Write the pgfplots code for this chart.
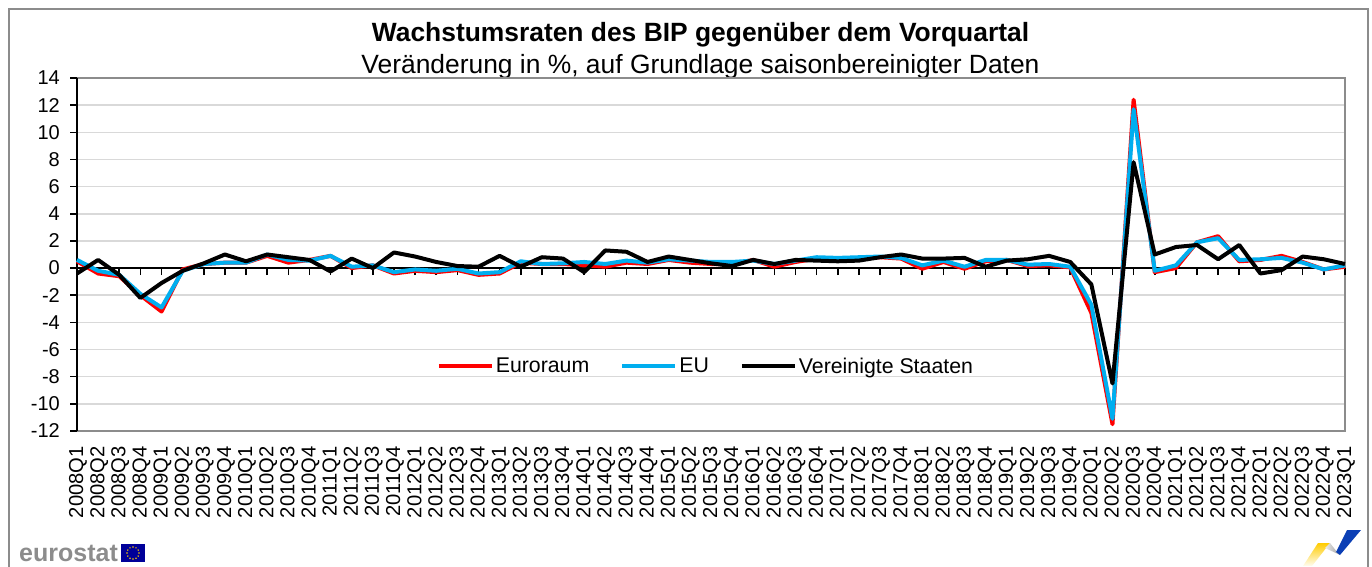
\documentclass[border=0pt]{standalone}
\usepackage{fontspec}
\setmainfont{Liberation Sans}
\usepackage{pgfplots}
\pgfplotsset{compat=1.18}
\usepackage{pgfplotstable}
\definecolor{eublue}{HTML}{00AEEF}
\definecolor{gridc}{HTML}{D9D9D9}
\definecolor{boxc}{HTML}{8C8C8C}
\definecolor{gold}{HTML}{FFCC00}
\definecolor{logoblue}{HTML}{0B3FB5}
\pgfplotstableread{
x ea eu us
0 0.5 0.6 -0.4
1 -0.4 -0.2 0.6
2 -0.6 -0.5 -0.5
3 -2.0 -1.9 -2.2
4 -3.2 -2.9 -1.1
5 -0.1 -0.2 -0.2
6 0.3 0.3 0.35
7 0.4 0.4 1.0
8 0.4 0.4 0.5
9 0.9 1.0 1.0
10 0.4 0.6 0.8
11 0.6 0.55 0.6
12 0.9 0.9 -0.25
13 0.0 0.1 0.7
14 0.2 0.2 0.0
15 -0.4 -0.3 1.15
16 -0.2 -0.1 0.85
17 -0.3 -0.2 0.45
18 -0.15 -0.05 0.15
19 -0.5 -0.4 0.1
20 -0.4 -0.3 0.9
21 0.4 0.5 0.1
22 0.3 0.3 0.8
23 0.3 0.35 0.7
24 0.2 0.45 -0.3
25 0.1 0.3 1.3
26 0.4 0.55 1.2
27 0.3 0.4 0.45
28 0.6 0.65 0.85
29 0.4 0.55 0.6
30 0.3 0.45 0.35
31 0.3 0.45 0.15
32 0.6 0.55 0.6
33 0.1 0.3 0.3
34 0.45 0.55 0.6
35 0.7 0.8 0.55
36 0.65 0.75 0.5
37 0.7 0.8 0.55
38 0.8 0.85 0.8
39 0.7 0.75 1.0
40 -0.05 0.2 0.7
41 0.45 0.55 0.7
42 -0.05 0.1 0.75
43 0.5 0.6 0.1
44 0.6 0.6 0.55
45 0.15 0.25 0.65
46 0.2 0.3 0.9
47 0.05 0.1 0.45
48 -3.3 -2.7 -1.2
49 -11.5 -11.1 -8.5
50 12.4 11.7 7.8
51 -0.3 -0.2 1.0
52 0.0 0.2 1.55
53 1.9 1.9 1.7
54 2.35 2.2 0.65
55 0.5 0.6 1.7
56 0.6 0.65 -0.4
57 0.9 0.75 -0.15
58 0.45 0.4 0.85
59 -0.1 -0.1 0.65
60 0.1 0.2 0.3
}\gdp
\begin{document}
\begin{tikzpicture}[x=1pt,y=1pt]
\useasboundingbox (0,0) rectangle (1372,566);
\draw[boxc,line width=1.6pt] (9,-3) -- (9,557) -- (1368,557) -- (1368,-3);
\node[font=\bfseries\fontsize{26.4}{28}\selectfont,anchor=base] at (700.5,524) {Wachstumsraten des BIP gegenüber dem Vorquartal};
\node[font=\fontsize{26.4}{28}\selectfont,anchor=base] at (700.5,492) {Veränderung in \%, auf Grundlage saisonbereinigter Daten};
\begin{axis}[
  at={(77pt,135pt)},anchor=south west,scale only axis,width=1268pt,height=353pt,
  xmin=0,xmax=60,ymin=-12,ymax=14,
  axis line style={boxc,line width=1.6pt},
  xtick={0,1,...,60},
  xticklabels={2008Q1,2008Q2,2008Q3,2008Q4,2009Q1,2009Q2,2009Q3,2009Q4,2010Q1,2010Q2,2010Q3,2010Q4,2011Q1,2011Q2,2011Q3,2011Q4,2012Q1,2012Q2,2012Q3,2012Q4,2013Q1,2013Q2,2013Q3,2013Q4,2014Q1,2014Q2,2014Q3,2014Q4,2015Q1,2015Q2,2015Q3,2015Q4,2016Q1,2016Q2,2016Q3,2016Q4,2017Q1,2017Q2,2017Q3,2017Q4,2018Q1,2018Q2,2018Q3,2018Q4,2019Q1,2019Q2,2019Q3,2019Q4,2020Q1,2020Q2,2020Q3,2020Q4,2021Q1,2021Q2,2021Q3,2021Q4,2022Q1,2022Q2,2022Q3,2022Q4,2023Q1},
  xticklabel style={rotate=90,anchor=east,font=\fontsize{20.2}{22}\selectfont,inner sep=0pt,xshift=-15pt,yshift=-1pt},
  ytick={-12,-10,...,14},
  yticklabels={-12,-10,-8,-6,-4,-2,0,2,4,6,8,10,12,14},
  yticklabel style={font=\fontsize{20}{22}\selectfont,inner sep=0pt,xshift=-17pt},
  major tick length=0pt,
  ymajorgrids,
  major grid style={gridc,line width=1.6pt},
]
\end{axis}
\begin{axis}[
  at={(77pt,135pt)},anchor=south west,scale only axis,width=1268pt,height=353pt,
  xmin=0,xmax=60,ymin=-12,ymax=14,
  axis x line=middle,axis y line=left,
  x axis line style={-,black,line width=1.6pt},
  y axis line style={-,black,line width=1.6pt},
  xtick={0,1,...,60},xticklabels={},
  ytick={-12,-10,...,14},yticklabels={},
  tick align=outside,
  major tick length=7pt,
  tick style={black,line width=1.6pt},
  legend style={at={(0.496,0.183)},anchor=center,draw=none,fill=none,legend columns=3,
    font=\fontsize{21.3}{23}\selectfont,/tikz/every even column/.append style={column sep=29pt}},
  legend cell align=left,
  legend image code/.code={\draw[#1,line width=4pt] (0,0) -- (53pt,0);},
  clip=false,
]
\addplot[red,line width=4pt,line join=round] table[x=x,y=ea] {\gdp};
\addlegendentry{Euroraum}
\addplot[eublue,line width=4pt,line join=round] table[x=x,y=eu] {\gdp};
\addlegendentry{EU}
\addplot[black,line width=4pt,line join=round] table[x=x,y=us] {\gdp};
\addlegendentry{Vereinigte Staaten}
\end{axis}
\node[anchor=base west,inner sep=0pt,text=gray!90,font=\bfseries\fontsize{25}{28}\selectfont] at (19,5) {eurostat};
\fill[blue!60!black] (121,4) rectangle (145,22);
\foreach \a in {0,30,...,330}{\fill[gold] ({133+6*cos(\a)},{13+6*sin(\a)}) circle (0.8);}
\shade[top color=gold,bottom color=gold!5] (1318,23) -- (1330,23) -- (1312,0) -- (1303,0) -- cycle;
\shade[left color=gray!15,right color=gray!75] (1330,23) -- (1337,14) -- (1340,11) -- (1325,18) -- cycle;
\fill[logoblue] (1347,36) -- (1361,36) -- (1340,11) -- (1336,14) -- cycle;
\end{tikzpicture}
\end{document}
